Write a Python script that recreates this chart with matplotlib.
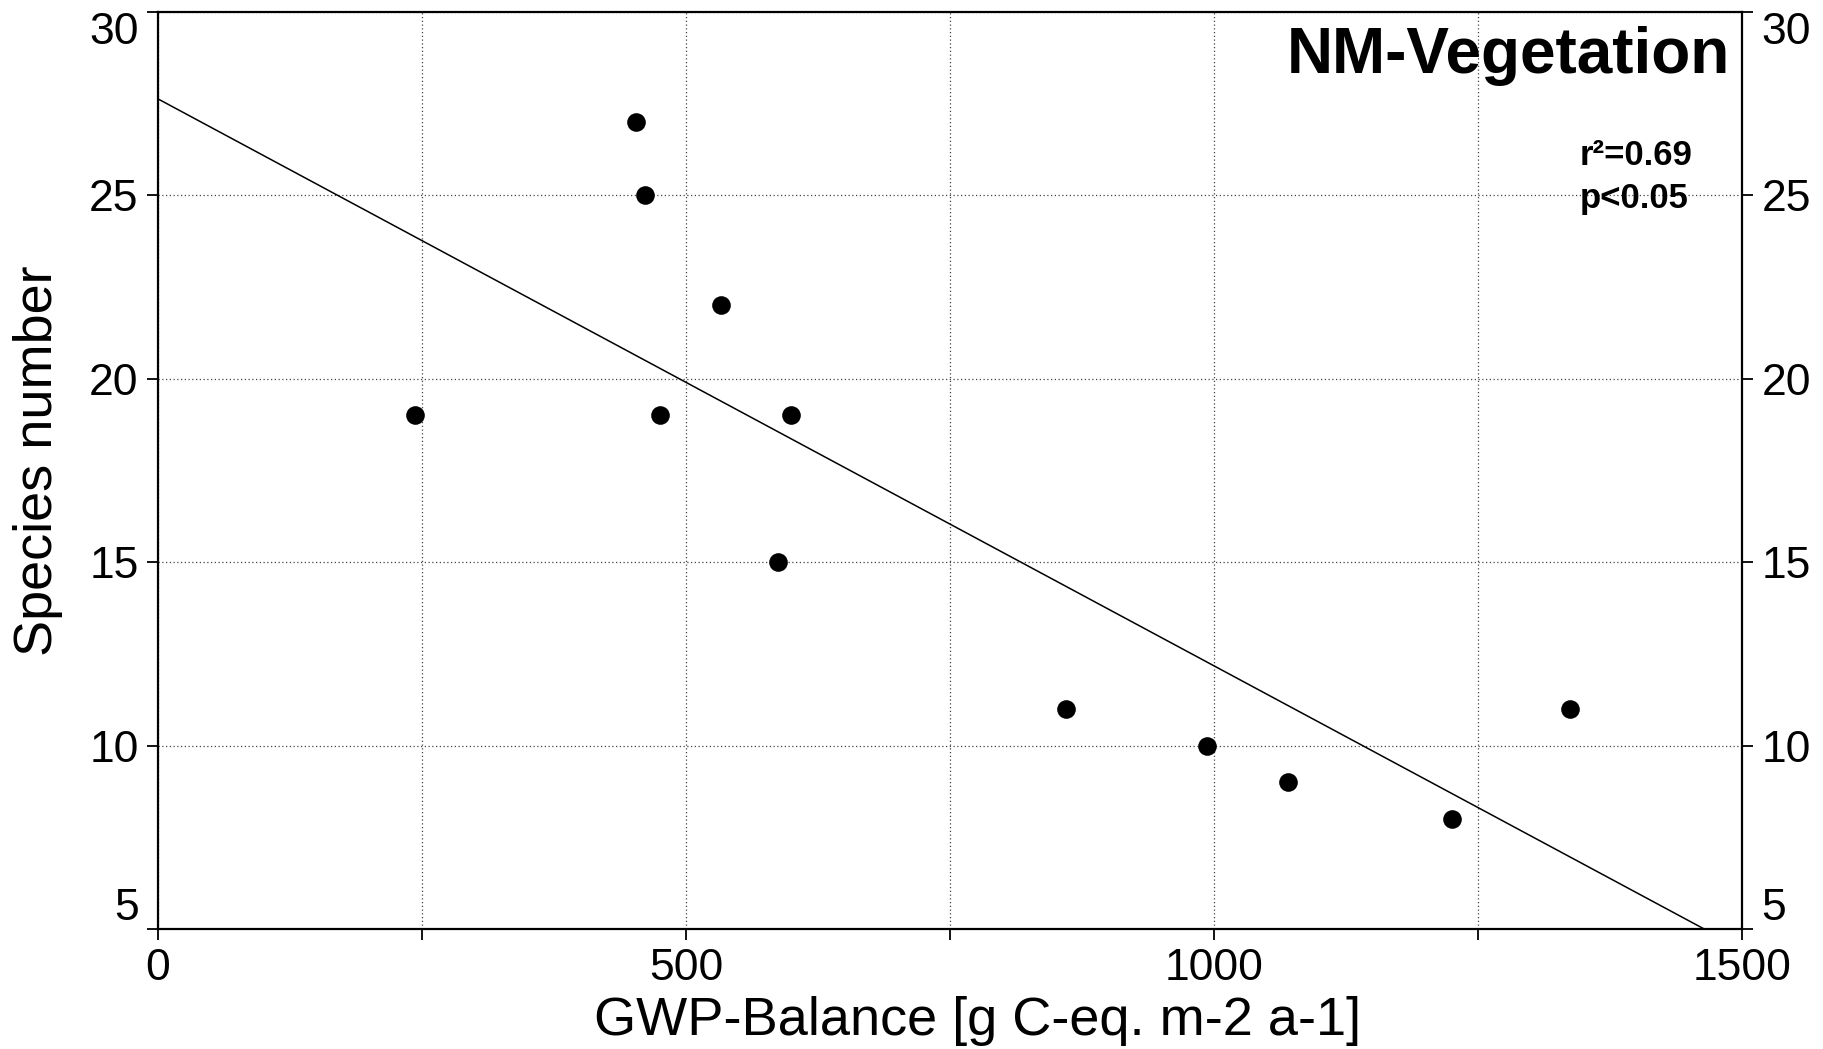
import numpy as np
import matplotlib
matplotlib.use("Agg")
import matplotlib.pyplot as plt
from matplotlib.ticker import MultipleLocator

plt.rcParams['font.family'] = ['Liberation Sans', 'DejaVu Sans']

# Data
gwp_balance = [243, 453, 461, 533, 475, 599, 587, 860, 993, 1070, 1225, 1337]
species_number = [19, 27, 25, 22, 19, 19, 15, 11, 10, 9, 8, 11]
x_ticks = [0, 500, 1000, 1500]
y_ticks = [5, 10, 15, 20, 25, 30]
title_text = "NM-Vegetation"
r2_text = "r²=0.69"
p_text = "p<0.05"
x_label = "GWP-Balance [g C-eq. m-2 a-1]"
y_label = "Species number"

W, H = 1823, 1049
fig = plt.figure(figsize=(W / 100, H / 100), dpi=100)
ax = fig.add_axes([158 / W, 1 - 929 / H, (1742 - 158) / W, (929 - 12) / H])

x = np.array(gwp_balance, dtype=float)
y = np.array(species_number, dtype=float)
slope, intercept = np.polyfit(x, y, 1)
xl = np.linspace(0, 1500, 200)
ax.plot(xl, intercept + slope * xl, color='black', lw=1.1, zorder=3)
ax.scatter(x, y, s=180, color='black', zorder=4, linewidths=0)

ax.set_xlim(0, 1500)
ax.set_ylim(5, 30)
ax.set_xticks(x_ticks)
ax.xaxis.set_minor_locator(MultipleLocator(250))
ax.set_yticks(y_ticks)

ax.grid(True, which='both', axis='x', linestyle=(0, (1, 2)), color='#444444', lw=0.9)
ax.grid(True, which='major', axis='y', linestyle=(0, (1, 2)), color='#444444', lw=0.9)
ax.set_axisbelow(True)

for s in ax.spines.values():
    s.set_linewidth(1.6)

ax.tick_params(axis='both', which='both', direction='out', length=8, width=1.3,
               labelsize=32, pad=6)
ax.tick_params(axis='y', right=True, labelright=True)

fig.canvas.draw()
# keep the end labels inside the figure, as in the reference
for t in ax.yaxis.get_major_ticks():
    val = t.get_loc()
    if val == y_ticks[0]:
        t.label1.set_va('bottom'); t.label2.set_va('bottom')
    elif val == y_ticks[-1]:
        t.label1.set_va('top'); t.label2.set_va('top')

ax.set_xlabel(x_label, fontsize=39)
ax.xaxis.label.set_va('baseline')
ax.xaxis.set_label_coords((978 - 158) / 1584, -(1035 - 929) / 917)
ax.set_ylabel(y_label, fontsize=39)
ax.yaxis.label.set_va('baseline')
ax.yaxis.set_label_coords((52 - 158) / 1584, (929 - 461) / 917)

ax.text((1730 - 158) / 1584, 0.985, title_text, transform=ax.transAxes, ha='right', va='top',
        fontsize=46, fontweight='bold')
ax.text(1580 / W, 1 - 165 / H, r2_text, transform=fig.transFigure,
        ha='left', va='baseline', fontsize=25, fontweight='bold')
ax.text(1580 / W, 1 - 208 / H, p_text, transform=fig.transFigure,
        ha='left', va='baseline', fontsize=25, fontweight='bold')

fig.savefig("out.png", dpi=100)
